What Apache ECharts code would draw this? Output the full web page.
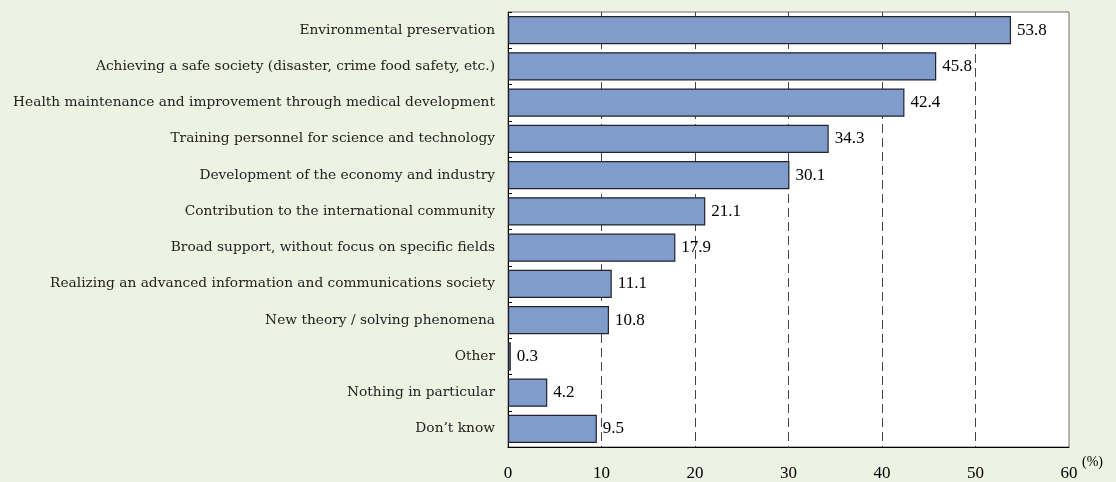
<!DOCTYPE html>
<html><head><meta charset="utf-8">
<script src="https://cdn.jsdelivr.net/npm/echarts@6/dist/echarts.min.js"></script>
<style>html,body{margin:0;padding:0;background:#edf2e3;}#c{width:1116px;height:482px;}</style>
</head><body><div id="c"></div>
<script>
const categories = [
  "Environmental preservation",
  "Achieving a safe society (disaster, crime food safety, etc.)",
  "Health maintenance and improvement through medical development",
  "Training personnel for science and technology",
  "Development of the economy and industry",
  "Contribution to the international community",
  "Broad support, without focus on specific fields",
  "Realizing an advanced information and communications society",
  "New theory / solving phenomena",
  "Other",
  "Nothing in particular",
  "Don\u2019t know"
];
const values = [53.8, 45.8, 42.4, 34.3, 30.1, 21.1, 17.9, 11.1, 10.8, 0.3, 4.2, 9.5];
const xTicks = [0, 10, 20, 30, 40, 50, 60];

const serif = '"Liberation Serif", "DejaVu Serif", serif';
const wideSerif = '"DejaVu Serif", serif';
const chart = echarts.init(document.getElementById('c'));
chart.setOption({
  backgroundColor: '#edf2e3',
  animation: false,
  grid: {left: 508, right: 47, top: 12, bottom: 35, show: true, backgroundColor: '#ffffff', borderColor: '#707070', borderWidth: 1},
  xAxis: {
    type: 'value', min: xTicks[0], max: xTicks[xTicks.length - 1], interval: 10,
    axisLine: {show: true, lineStyle: {color: '#000', width: 1}},
    axisTick: {show: false},
    axisLabel: {color: '#000', fontFamily: serif, fontSize: 17, margin: 18},
    splitLine: {show: true, showMinLine: false, showMaxLine: false, lineStyle: {color: '#444', type: [9, 5], width: 1}}
  },
  yAxis: {
    type: 'category', data: categories, inverse: true,
    axisLine: {show: true, onZero: false, lineStyle: {color: '#000', width: 1}},
    axisTick: {show: true, inside: true, length: 4, lineStyle: {color: '#000'}},
    axisLabel: {color: '#222', fontFamily: wideSerif, fontSize: 13.75, margin: 13}
  },
  series: [{
    type: 'bar', data: values, barWidth: '78%',
    itemStyle: {color: '#7f9ccb', borderColor: '#222230', borderWidth: 1.2},
    label: {show: true, position: 'right', distance: 6, color: '#000', fontFamily: serif, fontSize: 17,
      formatter: p => p.value.toFixed(1)}
  }],
  graphic: [{
    type: 'text', left: 1082, top: 455,
    style: {text: '(%)', fill: '#000', font: '14px ' + serif}
  }]
});
</script></body></html>
